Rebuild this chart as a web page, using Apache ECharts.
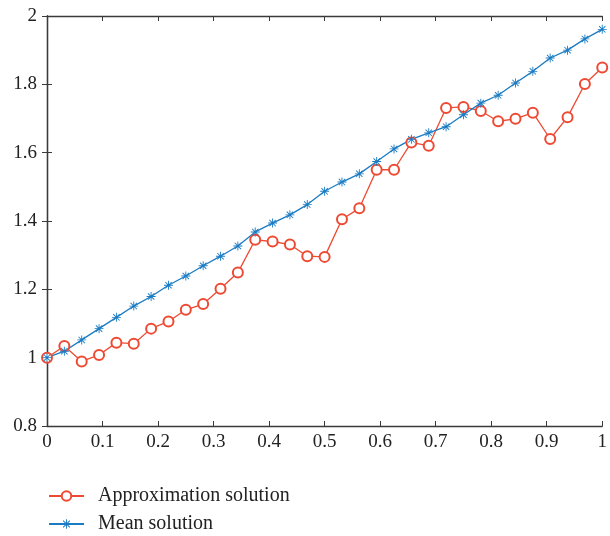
<!DOCTYPE html>
<html><head><meta charset="utf-8">
<script src="https://cdn.jsdelivr.net/npm/echarts@6/dist/echarts.min.js"></script>
<style>html,body{margin:0;padding:0;background:#fff}#c{width:610px;height:536px}</style>
</head><body><div id="c"></div>
<script>
const xValues = [0,0.03125,0.0625,0.09375,0.125,0.15625,0.1875,0.21875,0.25,0.28125,0.3125,0.34375,0.375,0.40625,0.4375,0.46875,0.5,0.53125,0.5625,0.59375,0.625,0.65625,0.6875,0.71875,0.75,0.78125,0.8125,0.84375,0.875,0.90625,0.9375,0.96875,1];
const approxValues = [1.000,1.034,0.989,1.008,1.044,1.041,1.085,1.106,1.140,1.157,1.202,1.249,1.345,1.340,1.331,1.297,1.295,1.405,1.437,1.550,1.550,1.630,1.620,1.731,1.734,1.722,1.692,1.699,1.717,1.640,1.704,1.801,1.849];
const meanValues = [1.000,1.019,1.052,1.085,1.118,1.151,1.179,1.212,1.239,1.269,1.297,1.327,1.368,1.394,1.418,1.448,1.487,1.514,1.538,1.574,1.611,1.639,1.658,1.676,1.711,1.745,1.768,1.804,1.838,1.877,1.900,1.933,1.961];
const seriesNames = ['Approximation solution','Mean solution'];

const asterisk = 'path://M-0.1,-1L0.1,-1L0.1,1L-0.1,1Z M-1,-0.1L1,-0.1L1,0.1L-1,0.1Z M-0.636,-0.778L0.778,0.636L0.636,0.778L-0.778,-0.636Z M-0.778,0.636L0.636,-0.778L0.778,-0.636L-0.636,0.778Z';
const font = 'Liberation Serif';
const axisCol = '#3a3a3a';
const chart = echarts.init(document.getElementById('c'));
const pair = (xs, ys) => xs.map((x, i) => [x, ys[i]]);
const legendBase = {
  orient: 'vertical', left: 48, padding: 0, itemWidth: 35, itemHeight: 12,
  textStyle: {fontFamily: font, fontSize: 20, color: '#222', padding: [0, 0, 0, 9]}
};
chart.setOption({
  animation: false,
  textStyle: {fontFamily: font},
  grid: {left: 47, right: 2, top: 16, bottom: 110},
  legend: [
    Object.assign({}, legendBase, {top: 486, data: [seriesNames[0]]}),
    Object.assign({}, legendBase, {top: 514, data: [seriesNames[1]]})
  ],
  xAxis: [{
    type: 'value', min: 0, max: 1, interval: 0.1,
    axisLine: {lineStyle: {color: axisCol, width: 1.3}},
    axisTick: {inside: true, length: 5, lineStyle: {color: axisCol}},
    axisLabel: {fontFamily: font, fontSize: 19, color: '#222', margin: 7},
    splitLine: {show: false}
  }, {
    type: 'value', position: 'top', min: 0, max: 1, interval: 0.1,
    axisLine: {lineStyle: {color: axisCol, width: 1.3}},
    axisTick: {inside: true, length: 5, lineStyle: {color: axisCol}},
    axisLabel: {show: false}, splitLine: {show: false}
  }],
  yAxis: [{
    type: 'value', min: 0.8, max: 2, interval: 0.2,
    axisLine: {show: true, lineStyle: {color: axisCol, width: 1.3}},
    axisTick: {show: true, inside: true, length: 5, lineStyle: {color: axisCol}},
    axisLabel: {fontFamily: font, fontSize: 19, color: '#222', margin: 10},
    splitLine: {show: false}
  }, {
    type: 'value', position: 'right', min: 0.8, max: 2, interval: 0.2,
    axisLine: {show: true, lineStyle: {color: axisCol, width: 1.3}},
    axisTick: {show: true, inside: true, length: 5, lineStyle: {color: axisCol}},
    axisLabel: {show: false}, splitLine: {show: false}
  }],
  series: [{
    name: seriesNames[0], type: 'line', data: pair(xValues, approxValues),
    symbol: 'emptyCircle', symbolSize: 10, showAllSymbol: true,
    lineStyle: {color: '#EE4A33', width: 1.3},
    itemStyle: {color: '#EE4A33', borderWidth: 1.3}
  }, {
    name: seriesNames[1], type: 'line', data: pair(xValues, meanValues),
    symbol: asterisk, symbolSize: 9, showAllSymbol: true,
    lineStyle: {color: '#1B7CC3', width: 1.3},
    itemStyle: {color: '#1B7CC3'}
  }]
});
</script></body></html>
